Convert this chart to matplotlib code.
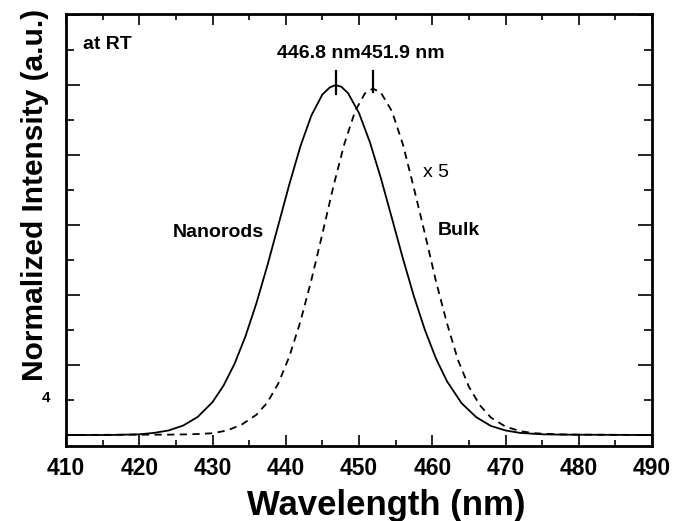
import numpy as np
import matplotlib
matplotlib.use("Agg")
import matplotlib.pyplot as plt
from matplotlib.ticker import MultipleLocator

plt.rcParams['font.family'] = ['Liberation Sans', 'DejaVu Sans']

# values (wavelength in nm, normalized intensity)
wl_rods = [410, 416, 418, 420, 422, 424, 426, 428, 430, 431.5, 433, 434.5,
           436, 437.5, 439, 440.5, 442, 443.5, 445, 446, 446.8, 447.6, 448.5,
           450, 451.5, 453, 454.5, 456, 457.5, 459, 460.5, 462, 464, 466,
           468, 470, 472, 475, 478, 490]
int_rods = [0, 0, 0.001, 0.002, 0.006, 0.013, 0.027, 0.052, 0.094, 0.141,
            0.203, 0.282, 0.377, 0.485, 0.601, 0.717, 0.825, 0.913, 0.973,
            0.993, 1.0, 0.995, 0.977, 0.920, 0.836, 0.733, 0.619, 0.504,
            0.396, 0.300, 0.219, 0.154, 0.091, 0.051, 0.026, 0.013, 0.006,
            0.002, 0.001, 0]

wl_bulk = [410, 420, 424, 427, 430, 432, 434, 436, 437.5, 439, 440.5, 442,
           443.5, 445, 446.5, 448, 449.5, 450.8, 451.9, 453, 454.5, 456,
           457.5, 459, 460.5, 462, 463.5, 465, 466.5, 468, 470, 472, 474,
           477, 480, 490]
int_bulk = [0, 0.001, 0.001, 0.002, 0.005, 0.013, 0.03, 0.058, 0.093, 0.148,
            0.225, 0.324, 0.443, 0.575, 0.71, 0.832, 0.927, 0.976, 0.99,
            0.978, 0.925, 0.83, 0.705, 0.575, 0.44, 0.32, 0.215, 0.138,
            0.085, 0.05, 0.024, 0.011, 0.005, 0.002, 0.001, 0]

peak_rods = 446.8
peak_bulk = 451.9

fig = plt.figure(figsize=(6.82, 5.21), dpi=100)
ax = fig.add_axes([66/682, 1-446/521, 586/682, 432/521])

ax.plot(wl_rods, int_rods, color='black', lw=1.3)
ax.plot(wl_bulk, int_bulk, color='black', lw=1.3, ls=(0, (4, 3)))

# peak markers
ax.plot([peak_rods, peak_rods], [0.975, 1.04], color='black', lw=1.6)
ax.plot([peak_bulk, peak_bulk], [0.98, 1.04], color='black', lw=1.6)

ax.set_xlim(410, 490)
ax.set_ylim(-0.0314, 1.203)
ax.xaxis.set_major_locator(MultipleLocator(10))
ax.xaxis.set_minor_locator(MultipleLocator(5))
ax.yaxis.set_major_locator(MultipleLocator(0.2))
ax.yaxis.set_minor_locator(MultipleLocator(0.1))
ax.tick_params(which='both', direction='in', top=True, right=True, width=1.2)
ax.tick_params(axis='x', which='major', length=8, pad=8, labelsize=16.5)
ax.tick_params(axis='x', which='minor', length=4)
ax.tick_params(axis='y', which='major', length=10, labelleft=False)
ax.tick_params(axis='y', which='minor', length=6)
for lab in ax.get_xticklabels():
    lab.set_fontweight('bold')
for s in ax.spines.values():
    s.set_linewidth(2)

ax.set_xlabel('Wavelength (nm)', fontsize=25, fontweight='bold', va='center')
ax.xaxis.set_label_coords(0.546, -0.137)
ax.set_ylabel('Normalized Intensity (a.u.)', fontsize=21.5, fontweight='bold', va='center')
ax.yaxis.set_label_coords(-0.053, 0.581)

ax.text(412.3, 1.115, 'at RT', fontsize=14, fontweight='bold', va='center')
ax.text(450.3, 1.09, '446.8 nm', fontsize=14, fontweight='bold', ha='right', va='center')
ax.text(450.3, 1.09, '451.9 nm', fontsize=14, fontweight='bold', ha='left', va='center')
ax.text(424.6, 0.58, 'Nanorods', fontsize=14, fontweight='bold', va='center')
ax.text(460.7, 0.585, 'Bulk', fontsize=14, fontweight='bold', va='center')
ax.text(458.8, 0.751, 'x 5', fontsize=14, va='center')

fig.text(46/682, 1-398/521, '4', fontsize=11, fontweight='bold', ha='center', va='center')

fig.savefig('out.png', dpi=100)
